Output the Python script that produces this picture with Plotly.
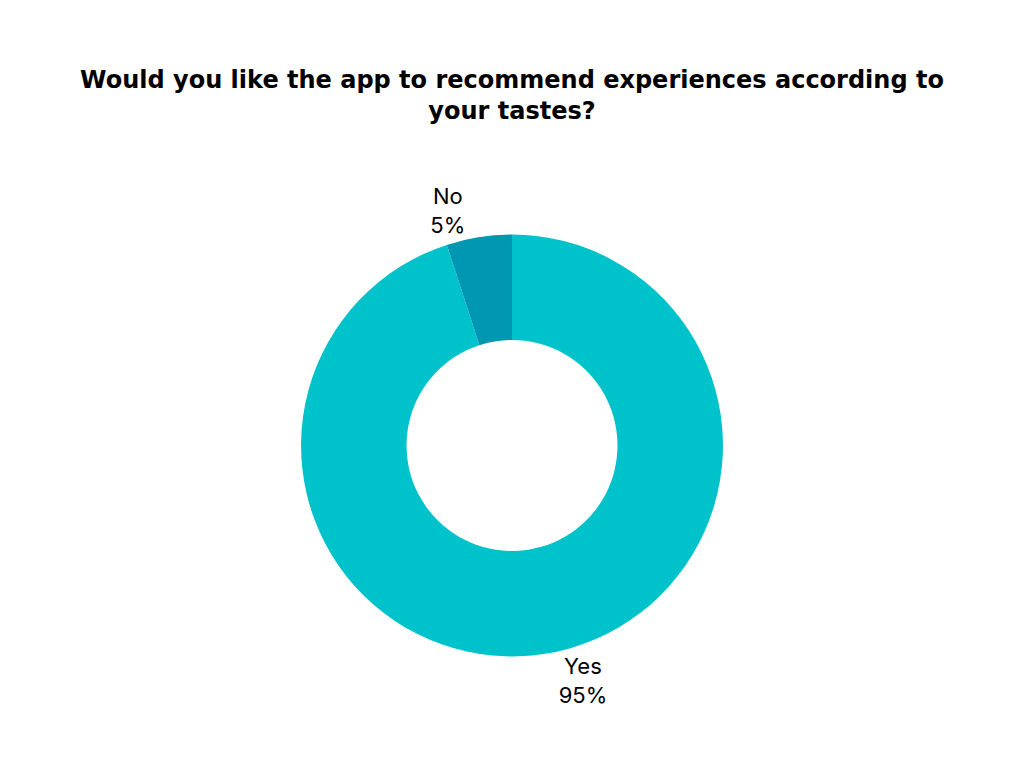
import plotly.graph_objects as go

labels = ["Yes", "No"]
values = [95, 5]
colors = ["#00C2CB", "#0097B2"]
title_text = "Would you like the app to recommend experiences according to<br>your tastes?"

fig = go.Figure(go.Pie(
    labels=labels,
    values=values,
    hole=0.5,
    sort=False,
    direction="clockwise",
    rotation=0,
    marker=dict(colors=colors, line=dict(width=0)),
    textposition="outside",
    textinfo="label+percent",
    texttemplate="%{label}<br>%{percent:.0%}",
    textfont=dict(family="Inter", size=22, color="#000000"),
    domain=dict(x=[0.294, 0.706], y=[0.082, 0.722]),
    showlegend=False,
    hoverinfo="skip",
))

fig.update_layout(
    width=1024,
    height=768,
    margin=dict(l=0, r=0, t=0, b=0),
    paper_bgcolor="white",
    plot_bgcolor="white",
    title=dict(
        text=title_text,
        x=0.5,
        xanchor="center",
        y=1 - 88 / 768,
        yanchor="middle",
        font=dict(family="DejaVu Sans", size=24, color="#000000", weight="bold"),
    ),
)

fig.write_html("out.html")
